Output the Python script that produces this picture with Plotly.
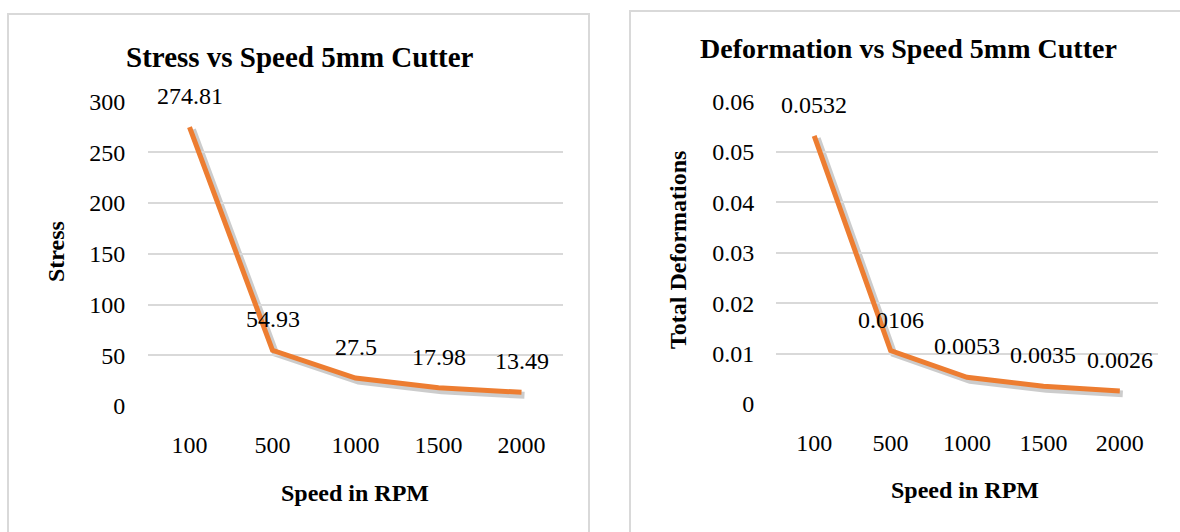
import plotly.graph_objects as go

speeds = ["100", "500", "1000", "1500", "2000"]
stress = [274.81, 54.93, 27.5, 17.98, 13.49]
stress_labels = ["274.81", "54.93", "27.5", "17.98", "13.49"]
deform = [0.0532, 0.0106, 0.0053, 0.0035, 0.0026]
deform_labels = ["0.0532", "0.0106", "0.0053", "0.0035", "0.0026"]

W, H = 1180, 532
FONT = "Liberation Serif"
ORANGE = "#ED7D31"
GRID = "#d9d9d9"

def px(x):
    return x / W

def py(y):
    return (H - y) / H

fig = go.Figure()

# shadow traces (same data on slightly offset, hidden axes)
fig.add_trace(go.Scatter(x=speeds, y=stress, mode="lines", xaxis="x", yaxis="y",
                         line=dict(color="rgba(0,0,0,0.2)", width=7), hoverinfo="skip"))
fig.add_trace(go.Scatter(x=speeds, y=deform, mode="lines", xaxis="x2", yaxis="y2",
                         line=dict(color="rgba(0,0,0,0.2)", width=7), hoverinfo="skip"))

# main lines
fig.add_trace(go.Scatter(x=speeds, y=stress, mode="lines", xaxis="x3", yaxis="y3",
                         line=dict(color=ORANGE, width=5)))
fig.add_trace(go.Scatter(x=speeds, y=deform, mode="lines", xaxis="x4", yaxis="y4",
                         line=dict(color=ORANGE, width=5)))

LBL = dict(family=FONT, size=24, color="#000")
annotations = []
for i, (v, t) in enumerate(zip(stress, stress_labels)):
    annotations.append(dict(x=i, y=v, xref="x3", yref="y3", text=t, showarrow=False,
                            xanchor="center", yanchor="middle", yshift=31, font=LBL))
for i, (v, t) in enumerate(zip(deform, deform_labels)):
    annotations.append(dict(x=i, y=v, xref="x4", yref="y4", text=t, showarrow=False,
                            xanchor="center", yanchor="middle", yshift=31, font=LBL))

def txt(x, y, t, size, angle=0):
    return dict(x=px(x), y=py(y), xref="paper", yref="paper", text=t, showarrow=False,
                xanchor="center", yanchor="middle", textangle=angle,
                font=dict(family=FONT, size=size, color="#000"))

annotations += [
    txt(300, 57, "<b>Stress vs Speed 5mm Cutter</b>", 29),
    txt(908, 48, "<b>Deformation vs Speed 5mm Cutter</b>", 28),
    txt(355, 493, "<b>Speed in RPM</b>", 24),
    txt(965, 490, "<b>Speed in RPM</b>", 24),
    txt(56, 252, "<b>Stress</b>", 24, -90),
    txt(678, 250, "<b>Total Deformations</b>", 24, -90),
]

shapes = [
    dict(type="rect", xref="paper", yref="paper", x0=px(8), x1=px(589), y0=-0.2, y1=py(14),
         line=dict(color=GRID, width=2), layer="below"),
    dict(type="rect", xref="paper", yref="paper", x0=px(630), x1=1.2, y0=-0.2, y1=py(11),
         line=dict(color=GRID, width=2), layer="below"),
]

tickfont = dict(family=FONT, size=24, color="#000")

def xax(domain, visible=True, **kw):
    d = dict(domain=domain, type="category", range=[-0.5, 4.5], showgrid=False, zeroline=False,
             showline=False, ticks="outside", ticklen=17, tickcolor="rgba(0,0,0,0)",
             tickfont=tickfont, fixedrange=True, automargin=False, visible=visible)
    d.update(kw)
    return d

def yax(domain, rng, dtick, standoff, visible=True, **kw):
    d = dict(domain=domain, range=rng, dtick=dtick, showgrid=True, gridcolor=GRID, gridwidth=2,
             zeroline=False, showline=False, ticks="outside", ticklen=standoff,
             tickcolor="rgba(0,0,0,0)", tickfont=tickfont, fixedrange=True, automargin=False,
             visible=visible)
    d.update(kw)
    return d

off = 3
L_x = (148, 563)
L_y = (406, 101)
R_x = (776, 1158)
R_y = (404, 101)

fig.update_layout(
    template="none",
    width=W, height=H, margin=dict(l=0, r=0, t=0, b=0),
    paper_bgcolor="white", plot_bgcolor="rgba(0,0,0,0)", showlegend=False,
    # shadow subplots
    xaxis=xax([px(L_x[0] + off), px(L_x[1] + off)], visible=False, anchor="y"),
    yaxis=yax([py(L_y[0] + off), py(L_y[1] + off)], [0, 300], 50, 0, visible=False, anchor="x"),
    xaxis2=xax([px(R_x[0] + off), px(R_x[1] + off)], visible=False, anchor="y2"),
    yaxis2=yax([py(R_y[0] + off), py(R_y[1] + off)], [0, 0.06], 0.01, 0, visible=False, anchor="x2"),
    # main subplots
    xaxis3=xax([px(L_x[0]), px(L_x[1])], anchor="y3"),
    yaxis3=yax([py(L_y[0]), py(L_y[1])], [0, 300.5], 50, 17, anchor="x3"),
    xaxis4=xax([px(R_x[0]), px(R_x[1])], anchor="y4"),
    yaxis4=yax([py(R_y[0]), py(R_y[1])], [0, 0.0601], 0.01, 16, anchor="x4", tickformat=".2~f"),
    annotations=annotations, shapes=shapes,
)

fig.write_html("out.html")
